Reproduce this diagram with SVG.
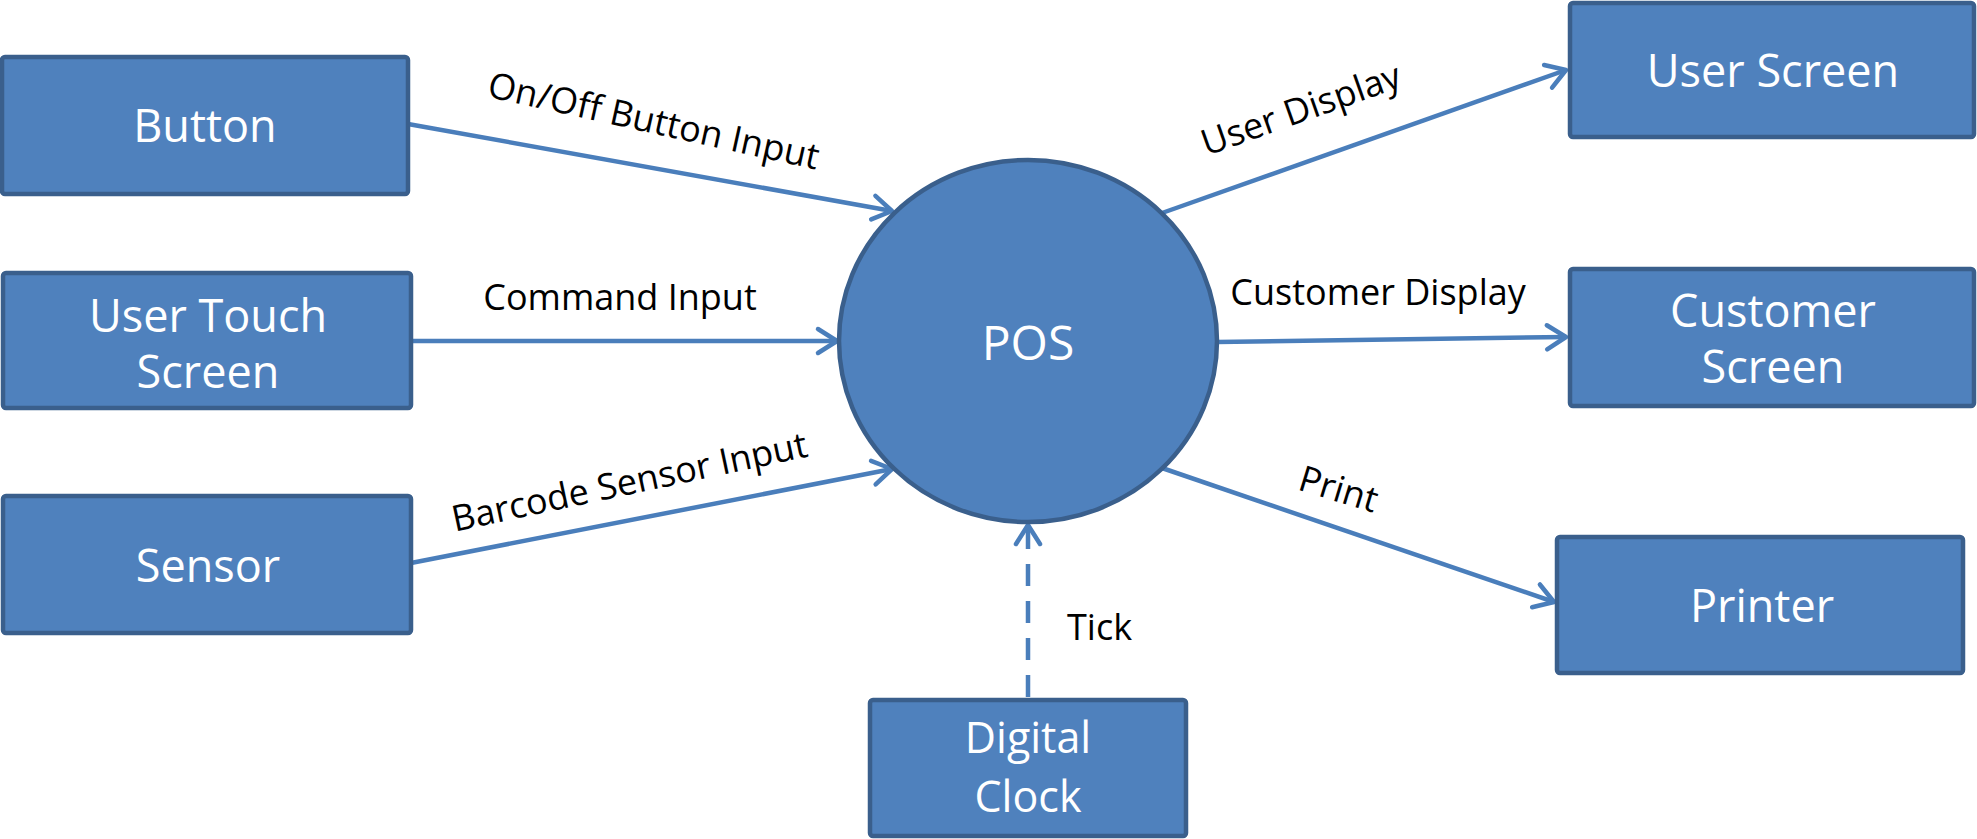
<svg xmlns="http://www.w3.org/2000/svg" width="1977" height="839" viewBox="0 0 1977 839">
<style>
.box{fill:#4F81BD;stroke:#3A5F8C;stroke-width:4.5}
.nt{font-family:"Open Sans","Noto Sans",sans-serif;font-size:45px;fill:#FFFFFF;text-anchor:middle}
.lb{font-family:"Open Sans","Noto Sans",sans-serif;font-size:36px;fill:#000000}
.cn{stroke:#4A7EBB;stroke-width:4.5;fill:none}
.dash{stroke-dasharray:22 15}
</style>
<defs>
<marker id="arr" markerUnits="userSpaceOnUse" markerWidth="40" markerHeight="40" viewBox="-30 -20 40 40" refX="0" refY="0" orient="auto">
<path d="M-19,-12 L0,0 L-19,12" fill="none" stroke="#4A7EBB" stroke-width="4.5" stroke-linecap="round" stroke-linejoin="round"/>
</marker>
</defs>
<rect width="1977" height="839" fill="#FFFFFF"/>
<g id="connectors">
<line class="cn" x1="408" y1="124" x2="892" y2="211" marker-end="url(#arr)"/>
<line class="cn" x1="411" y1="341" x2="837" y2="341" marker-end="url(#arr)"/>
<line class="cn" x1="411" y1="563" x2="892" y2="469" marker-end="url(#arr)"/>
<line class="cn" x1="1162" y1="213" x2="1566" y2="70" marker-end="url(#arr)"/>
<line class="cn" x1="1217" y1="342" x2="1566" y2="337" marker-end="url(#arr)"/>
<line class="cn" x1="1162" y1="468" x2="1554" y2="602" marker-end="url(#arr)"/>
<line class="cn dash" x1="1028" y1="697" x2="1028" y2="525" marker-end="url(#arr)"/>
<text class="lb" text-anchor="middle" transform="translate(651,133) rotate(12.5)">On/Off Button Input</text>
<text class="lb" text-anchor="middle" x="620" y="310">Command Input</text>
<text class="lb" text-anchor="middle" transform="translate(632,494) rotate(-12)">Barcode Sensor Input</text>
<text class="lb" text-anchor="middle" transform="translate(1305,121) rotate(-19.5)">User Display</text>
<text class="lb" text-anchor="middle" x="1378" y="305">Customer Display</text>
<text class="lb" text-anchor="middle" transform="translate(1335,501) rotate(17)">Print</text>
<text class="lb" x="1067" y="640">Tick</text>
</g>
<g id="node-pos">
<ellipse class="box" cx="1028" cy="341" rx="189" ry="181"/>
<text class="nt" x="1028" y="360" style="font-size:48px">POS</text>
</g>
<g id="node-button">
<rect class="box" x="2" y="57" width="406" height="137" rx="3"/>
<text class="nt" x="205" y="142">Button</text>
</g>
<g id="node-user-touch-screen">
<rect class="box" x="3" y="273" width="408" height="135" rx="3"/>
<text class="nt"><tspan x="208" y="332">User Touch</tspan><tspan x="208" y="388">Screen</tspan></text>
</g>
<g id="node-sensor">
<rect class="box" x="3" y="496" width="408" height="137" rx="3"/>
<text class="nt" x="208" y="582">Sensor</text>
</g>
<g id="node-digital-clock">
<rect class="box" x="870" y="700" width="316" height="136" rx="3"/>
<text class="nt" style="font-size:43px"><tspan x="1028" y="753">Digital</tspan><tspan x="1028" y="812">Clock</tspan></text>
</g>
<g id="node-user-screen">
<rect class="box" x="1570" y="3" width="404" height="134" rx="3"/>
<text class="nt" x="1773" y="87">User Screen</text>
</g>
<g id="node-customer-screen">
<rect class="box" x="1570" y="269" width="404" height="137" rx="3"/>
<text class="nt"><tspan x="1773" y="327">Customer</tspan><tspan x="1773" y="383">Screen</tspan></text>
</g>
<g id="node-printer">
<rect class="box" x="1557" y="537" width="406" height="136" rx="3"/>
<text class="nt" x="1762" y="622">Printer</text>
</g>
</svg>
